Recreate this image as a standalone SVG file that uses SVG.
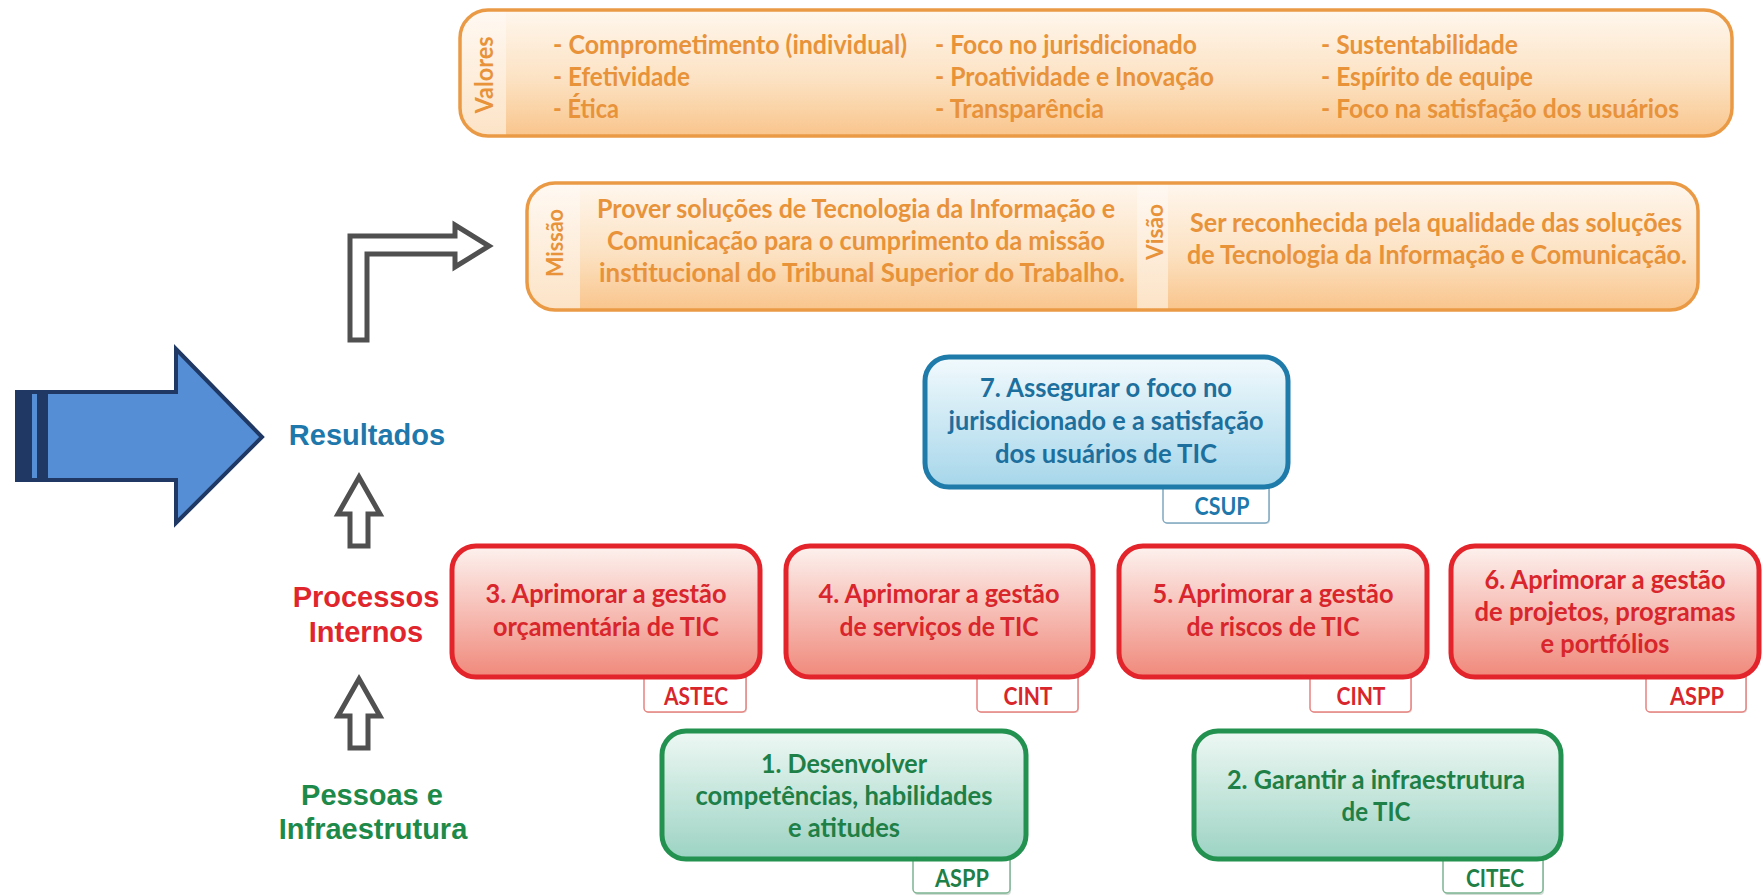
<svg xmlns="http://www.w3.org/2000/svg" width="1763" height="895" viewBox="0 0 1763 895">
<defs>
  <linearGradient id="gOr" x1="0" y1="0" x2="0" y2="1"><stop offset="0" stop-color="#FFF7EE"/><stop offset="0.55" stop-color="#FCE2C3"/><stop offset="1" stop-color="#F9C58C"/></linearGradient>
  <linearGradient id="gOrS" x1="0" y1="0" x2="0" y2="1"><stop offset="0" stop-color="#FFF9F3"/><stop offset="1" stop-color="#FCE3C6"/></linearGradient>
  <linearGradient id="gBl" x1="0" y1="0" x2="0" y2="1"><stop offset="0" stop-color="#F2FAFD"/><stop offset="1" stop-color="#A6D6EA"/></linearGradient>
  <linearGradient id="gRd" x1="0" y1="0" x2="0" y2="1"><stop offset="0" stop-color="#FDF2EF"/><stop offset="1" stop-color="#F0897B"/></linearGradient>
  <linearGradient id="gGr" x1="0" y1="0" x2="0" y2="1"><stop offset="0" stop-color="#EEF8F4"/><stop offset="1" stop-color="#9CD3C3"/></linearGradient>
  <clipPath id="cVal"><rect x="460" y="10" width="1272" height="126" rx="28"/></clipPath>
  <clipPath id="cMis"><rect x="527" y="183" width="1171" height="127" rx="28"/></clipPath>
</defs>
<style>
  .cal{font-family:Lato,"Open Sans","Noto Sans",sans-serif;font-weight:700}
  .arl{font-family:"Liberation Sans",Arial,sans-serif;font-weight:700;font-size:29px;text-anchor:middle}
  .org{fill:#E8923A;font-size:26.67px}
  .vlab{fill:#E8923A;text-anchor:middle;dominant-baseline:central}
  .nd{font-size:27px;text-anchor:middle}
  .tab{font-size:25px;text-anchor:middle}
  .obox{stroke:#EA9A45;stroke-width:3.5;fill:none}
  .bl{fill:#1D6F9D}
  .rd{fill:#D8262C}
  .gr{fill:#1E7F47}
  .ga{fill:#fff;stroke:#505050;stroke-width:5;stroke-linejoin:miter}
  .tbox{fill:#fff;stroke-width:1.5}
</style>

<rect width="1763" height="895" fill="#fff"/>

<g id="valores">
  <rect x="460" y="10" width="1272" height="126" rx="28" fill="url(#gOr)"/>
  <rect x="460" y="10" width="46" height="126" fill="url(#gOrS)" clip-path="url(#cVal)"/>
  <rect class="obox" x="460" y="10" width="1272" height="126" rx="28"/>
  <text class="cal vlab" transform="translate(483,75) rotate(-90)" font-size="24" textLength="77" lengthAdjust="spacingAndGlyphs">Valores</text>
  <g class="cal org">
    <text x="553" y="54" textLength="354" lengthAdjust="spacingAndGlyphs">- Comprometimento (individual)</text>
    <text x="553" y="86" textLength="137" lengthAdjust="spacingAndGlyphs">- Efetividade</text>
    <text x="553" y="118" textLength="66" lengthAdjust="spacingAndGlyphs">- Ética</text>
    <text x="935" y="54" textLength="262" lengthAdjust="spacingAndGlyphs">- Foco no jurisdicionado</text>
    <text x="935" y="86" textLength="279" lengthAdjust="spacingAndGlyphs">- Proatividade e Inovação</text>
    <text x="935" y="118" textLength="169" lengthAdjust="spacingAndGlyphs">- Transparência</text>
    <text x="1321" y="54" textLength="197" lengthAdjust="spacingAndGlyphs">- Sustentabilidade</text>
    <text x="1321" y="86" textLength="212" lengthAdjust="spacingAndGlyphs">- Espírito de equipe</text>
    <text x="1321" y="118" textLength="358" lengthAdjust="spacingAndGlyphs">- Foco na satisfação dos usuários</text>
  </g>
</g>

<g id="missao-visao">
  <rect x="527" y="183" width="1171" height="127" rx="28" fill="url(#gOr)"/>
  <rect x="527" y="183" width="53" height="127" fill="url(#gOrS)" clip-path="url(#cMis)"/>
  <rect x="1137" y="183" width="31" height="127" fill="url(#gOrS)"/>
  <rect class="obox" x="527" y="183" width="1171" height="127" rx="28"/>
  <text class="cal vlab" transform="translate(554,243) rotate(-90)" font-size="23" textLength="68" lengthAdjust="spacingAndGlyphs">Missão</text>
  <text class="cal vlab" transform="translate(1154,232) rotate(-90)" font-size="23" textLength="56" lengthAdjust="spacingAndGlyphs">Visão</text>
  <g class="cal org" text-anchor="middle">
    <text x="856" y="218" textLength="518" lengthAdjust="spacingAndGlyphs">Prover soluções de Tecnologia da Informação e</text>
    <text x="856" y="250" textLength="498" lengthAdjust="spacingAndGlyphs">Comunicação para o cumprimento da missão</text>
    <text x="862" y="282" textLength="526" lengthAdjust="spacingAndGlyphs">institucional do Tribunal Superior do Trabalho.</text>
    <text x="1436" y="232" textLength="492" lengthAdjust="spacingAndGlyphs">Ser reconhecida pela qualidade das soluções</text>
    <text x="1437" y="264" textLength="500" lengthAdjust="spacingAndGlyphs">de Tecnologia da Informação e Comunicação.</text>
  </g>
</g>

<g id="connectors">
  <g id="big-arrow">
    <polygon points="17,392 176,392 176,349 262,437 176,523 176,480 17,480" fill="#558ED5" stroke="#1F3864" stroke-width="4" stroke-linejoin="miter"/>
    <rect x="17" y="392" width="15" height="88" fill="#1F3864"/>
    <rect x="37" y="392" width="11" height="88" fill="#1F3864"/>
  </g>
  <polygon class="ga" points="350,340 350,236 455,236 455,225 489,246 455,267 455,254 367,254 367,340"/>
  <polygon class="ga" points="359,477 380,514 368,514 368,546 350,546 350,514 338,514"/>
  <polygon class="ga" points="359,679 380,716 368,716 368,748 350,748 350,716 338,716"/>
</g>

<g id="lbl-resultados"><text class="arl" x="367" y="445" fill="#1E78AB">Resultados</text></g>
<g id="lbl-processos"><text class="arl" x="366" y="607" fill="#E0262C">Processos</text><text class="arl" x="366" y="642" fill="#E0262C">Internos</text></g>
<g id="lbl-pessoas"><text class="arl" x="372" y="805" fill="#1E8A4A">Pessoas e</text><text class="arl" x="373" y="839" fill="#1E8A4A">Infraestrutura</text></g>

<g id="obj7">
  <rect x="1164" y="475" width="106" height="49" rx="4" fill="#d0d8dc"/>
  <rect class="tbox" x="1163" y="474" width="106" height="49" rx="4" stroke="#7FA9C0"/>
  <rect x="925" y="357" width="363" height="130" rx="24" fill="url(#gBl)" stroke="#1E7BAA" stroke-width="5"/>
  <g class="cal nd bl">
    <text x="1106" y="397" textLength="252" lengthAdjust="spacingAndGlyphs">7. Assegurar o foco no</text>
    <text x="1106" y="430" textLength="315" lengthAdjust="spacingAndGlyphs">jurisdicionado e a satisfação</text>
    <text x="1106" y="463" textLength="222" lengthAdjust="spacingAndGlyphs">dos usuários de TIC</text>
  </g>
  <text class="cal tab" x="1222" y="515" fill="#1E78AB" textLength="55" lengthAdjust="spacingAndGlyphs">CSUP</text>
</g>

<g id="obj3">
  <rect x="645" y="664" width="102" height="49" rx="4" fill="#e2d2d2"/>
  <rect class="tbox" x="644" y="663" width="102" height="49" rx="4" stroke="#E6837F"/>
  <rect x="452" y="546" width="308" height="131" rx="24" fill="url(#gRd)" stroke="#E3242B" stroke-width="5"/>
  <g class="cal nd rd">
    <text x="606" y="603" textLength="241" lengthAdjust="spacingAndGlyphs">3. Aprimorar a gestão</text>
    <text x="606" y="636" textLength="226" lengthAdjust="spacingAndGlyphs">orçamentária de TIC</text>
  </g>
  <text class="cal tab rd" x="696" y="705" textLength="64" lengthAdjust="spacingAndGlyphs">ASTEC</text>
</g>

<g id="obj4">
  <rect x="978" y="664" width="101" height="49" rx="4" fill="#e2d2d2"/>
  <rect class="tbox" x="977" y="663" width="101" height="49" rx="4" stroke="#E6837F"/>
  <rect x="786" y="546" width="307" height="131" rx="24" fill="url(#gRd)" stroke="#E3242B" stroke-width="5"/>
  <g class="cal nd rd">
    <text x="939" y="603" textLength="241" lengthAdjust="spacingAndGlyphs">4. Aprimorar a gestão</text>
    <text x="939" y="636" textLength="199" lengthAdjust="spacingAndGlyphs">de serviços de TIC</text>
  </g>
  <text class="cal tab rd" x="1028" y="705" textLength="49" lengthAdjust="spacingAndGlyphs">CINT</text>
</g>

<g id="obj5">
  <rect x="1311" y="664" width="101" height="49" rx="4" fill="#e2d2d2"/>
  <rect class="tbox" x="1310" y="663" width="101" height="49" rx="4" stroke="#E6837F"/>
  <rect x="1119" y="546" width="308" height="131" rx="24" fill="url(#gRd)" stroke="#E3242B" stroke-width="5"/>
  <g class="cal nd rd">
    <text x="1273" y="603" textLength="241" lengthAdjust="spacingAndGlyphs">5. Aprimorar a gestão</text>
    <text x="1273" y="636" textLength="173" lengthAdjust="spacingAndGlyphs">de riscos de TIC</text>
  </g>
  <text class="cal tab rd" x="1361" y="705" textLength="49" lengthAdjust="spacingAndGlyphs">CINT</text>
</g>

<g id="obj6">
  <rect x="1647" y="664" width="100" height="49" rx="4" fill="#e2d2d2"/>
  <rect class="tbox" x="1646" y="663" width="100" height="49" rx="4" stroke="#E6837F"/>
  <rect x="1451" y="546" width="308" height="131" rx="24" fill="url(#gRd)" stroke="#E3242B" stroke-width="5"/>
  <g class="cal nd rd">
    <text x="1605" y="589" textLength="241" lengthAdjust="spacingAndGlyphs">6. Aprimorar a gestão</text>
    <text x="1605" y="621" textLength="261" lengthAdjust="spacingAndGlyphs">de projetos, programas</text>
    <text x="1605" y="653" textLength="129" lengthAdjust="spacingAndGlyphs">e portfólios</text>
  </g>
  <text class="cal tab rd" x="1697" y="705" textLength="54" lengthAdjust="spacingAndGlyphs">ASPP</text>
</g>

<g id="obj1">
  <rect x="914" y="846" width="97" height="49" rx="4" fill="#d2ddd6"/>
  <rect class="tbox" x="913" y="845" width="97" height="48" rx="4" stroke="#7DB592"/>
  <rect x="662" y="731" width="364" height="128" rx="24" fill="url(#gGr)" stroke="#23914F" stroke-width="5"/>
  <g class="cal nd gr">
    <text x="844" y="773" textLength="166" lengthAdjust="spacingAndGlyphs">1. Desenvolver</text>
    <text x="844" y="805" textLength="297" lengthAdjust="spacingAndGlyphs">competências, habilidades</text>
    <text x="844" y="837" textLength="112" lengthAdjust="spacingAndGlyphs">e atitudes</text>
  </g>
  <text class="cal tab gr" x="962" y="887" textLength="54" lengthAdjust="spacingAndGlyphs">ASPP</text>
</g>

<g id="obj2">
  <rect x="1444" y="846" width="100" height="49" rx="4" fill="#d2ddd6"/>
  <rect class="tbox" x="1443" y="845" width="100" height="48" rx="4" stroke="#7DB592"/>
  <rect x="1194" y="731" width="367" height="128" rx="24" fill="url(#gGr)" stroke="#23914F" stroke-width="5"/>
  <g class="cal nd gr">
    <text x="1376" y="789" textLength="298" lengthAdjust="spacingAndGlyphs">2. Garantir a infraestrutura</text>
    <text x="1376" y="821" textLength="69" lengthAdjust="spacingAndGlyphs">de TIC</text>
  </g>
  <text class="cal tab gr" x="1495" y="887" textLength="58" lengthAdjust="spacingAndGlyphs">CITEC</text>
</g>
</svg>
